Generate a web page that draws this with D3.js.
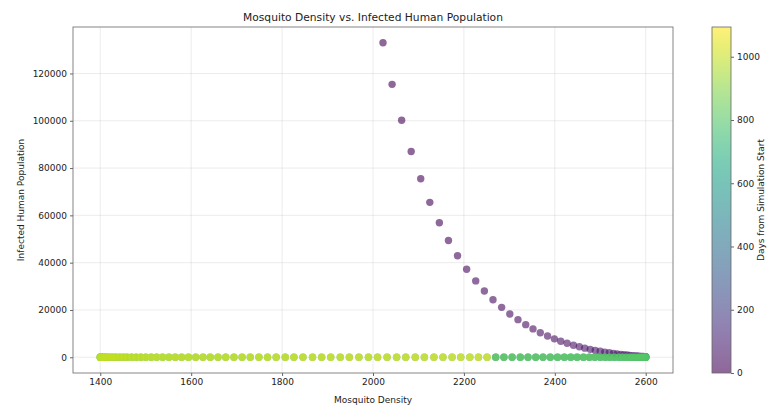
<!DOCTYPE html>
<html>
<head>
<meta charset="utf-8">
<script src="https://cdn.jsdelivr.net/npm/d3@7"></script>
<style>
body { margin: 0; background: #fff; }
text { font-family: "DejaVu Sans", sans-serif; fill: #222; }
</style>
</head>
<body>
<script>
var canvasWidth = 770;
var canvasHeight = 406;

// early days: infection dies out while density climbs
var decayDay = [0, 2, 4, 6, 8, 10, 12, 14, 16, 18, 20, 22, 24, 26, 28, 30, 32, 34, 36, 38,
    40, 42, 44, 46, 48, 50, 52, 54, 56, 58, 60, 62, 64, 66, 68, 70, 72, 74, 76, 78,
    80, 82, 84, 86, 88, 90, 92];
var decayDensity = [2022, 2042, 2063, 2084, 2105, 2125, 2146, 2166, 2186, 2206, 2226, 2245,
    2264, 2283, 2301, 2319, 2336, 2352, 2368, 2384, 2399, 2413, 2427, 2441, 2454, 2466,
    2478, 2489, 2500, 2510, 2520, 2529, 2537, 2545, 2552, 2559, 2565, 2571, 2576, 2581,
    2585, 2589, 2592, 2595, 2597, 2599, 2600];
var decayInfected = [133000, 115400, 100200, 87000, 75500, 65500, 56900, 49400, 42900, 37200,
    32300, 28000, 24300, 21100, 18300, 15900, 13800, 12000, 10400, 9000, 7800, 6800, 5900,
    5100, 4450, 3860, 3350, 2910, 2520, 2190, 1900, 1650, 1430, 1240, 1080, 940, 815, 705,
    612, 531, 461, 400, 347, 301, 262, 227, 197];

// later days: zero infected, density swinging between 1400 and 2600
var bandDensity = [2600, 2600, 2599, 2597, 2594, 2591, 2587, 2583, 2577, 2571, 2565, 2557,
    2549, 2541, 2531, 2521, 2511, 2500, 2488, 2476, 2463, 2449, 2435, 2421, 2406, 2390,
    2374, 2358, 2341, 2324, 2306, 2288, 2270, 2251, 2232, 2213, 2193, 2174, 2154, 2134,
    2113, 2093, 2072, 2052, 2031, 2010, 1990, 1969, 1948, 1928, 1907, 1887, 1867, 1846,
    1826, 1807, 1787, 1768, 1749, 1730, 1712, 1694, 1676, 1659, 1642, 1626, 1610, 1594,
    1579, 1565, 1551, 1537, 1524, 1512, 1500, 1489, 1479, 1469, 1459, 1451, 1443, 1435,
    1429, 1423, 1417, 1413, 1409, 1406, 1403, 1401, 1400, 1400];
var bandDayLow = [430, 432, 434, 436, 438, 440, 442, 444, 446, 448, 450, 452, 454, 456, 458,
    460, 462, 464, 466, 468, 470, 472, 474, 476, 478, 480, 482, 484, 486, 488, 490, 492, 494,
    728, 726, 724, 722, 720, 718, 716, 714, 712, 710, 708, 706, 704, 702, 700, 698, 696, 694,
    692, 690, 688, 686, 684, 682, 680, 678, 676, 674, 672, 670, 668, 666, 664, 662, 660, 658,
    656, 654, 652, 650, 648, 646, 644, 642, 640, 638, 636, 634, 632, 630, 628, 626, 624, 622,
    620, 618, 616, 614, 612];
var bandDayMid = [794, 792, 790, 788, 786, 784, 782, 780, 778, 776, 774, 772, 770, 768, 766,
    764, 762, 760, 758, 756, 754, 752, 750, 748, 746, 744, 742, 740, 738, 736, 734, 732, 730,
    860, 862, 864, 866, 868, 870, 872, 874, 876, 878, 880, 882, 884, 886, 888, 890, 892, 894,
    896, 898, 900, 902, 904, 906, 908, 910, 912, 914, 916, 918, 920, 922, 924, 926, 928, 930,
    932, 934, 936, 938, 940, 942, 944, 946, 948, 950, 952, 954, 956, 958, 960, 962, 964, 966,
    968, 970, 972, 974, 976];
var bandDayTop = [796, 798, 800, 802, 804, 806, 808, 810, 812, 814, 816, 818, 820, 822, 824,
    826, 828, 830, 832, 834, 836, 838, 840, 842, 844, 846, 848, 850, 852, 854, 856, 858, 860,
    1094, 1092, 1090, 1088, 1086, 1084, 1082, 1080, 1078, 1076, 1074, 1072, 1070, 1068, 1066,
    1064, 1062, 1060, 1058, 1056, 1054, 1052, 1050, 1048, 1046, 1044, 1042, 1040, 1038, 1036,
    1034, 1032, 1030, 1028, 1026, 1024, 1022, 1020, 1018, 1016, 1014, 1012, 1010, 1008, 1006,
    1004, 1002, 1000, 998, 996, 994, 992, 990, 988, 986, 984, 982, 980, 978];

var xTicks = [1400, 1600, 1800, 2000, 2200, 2400, 2600];
var yTicks = [0, 20000, 40000, 60000, 80000, 100000, 120000];
var cTicks = [0, 200, 400, 600, 800, 1000];

var plotLeft = 73, plotRight = 673, plotTop = 27, plotBottom = 373;
var barLeft = 712, barRight = 731;
var pointAlpha = 0.6;

var svg = d3.select("body").append("svg")
    .attr("width", canvasWidth)
    .attr("height", canvasHeight);

svg.append("rect").attr("width", canvasWidth).attr("height", canvasHeight).attr("fill", "#fff");

var x = d3.scaleLinear().domain([1340, 2660]).range([plotLeft, plotRight]);
var y = d3.scaleLinear().domain([-6650, 139650]).range([plotBottom, plotTop]);
var color = d3.scaleSequential(d3.interpolateViridis).domain([0, 1094]);
var cScale = d3.scaleLinear().domain([0, 1094]).range([plotBottom, plotTop]);

// grid
var grid = svg.append("g").attr("stroke", "#b0b0b0").attr("stroke-opacity", 0.3).attr("stroke-width", 0.8);
xTicks.forEach(function(t) {
    grid.append("line").attr("x1", x(t)).attr("x2", x(t)).attr("y1", plotTop).attr("y2", plotBottom);
});
yTicks.forEach(function(t) {
    grid.append("line").attr("x1", plotLeft).attr("x2", plotRight).attr("y1", y(t)).attr("y2", y(t));
});

// collect points, draw in time order like the original scatter
var points = [];
decayDay.forEach(function(d, i) {
    points.push({day: d, density: decayDensity[i], infected: decayInfected[i]});
});
[bandDayLow, bandDayMid, bandDayTop].forEach(function(layer) {
    layer.forEach(function(d, i) {
        points.push({day: d, density: bandDensity[i], infected: 0});
    });
});
points.sort(function(a, b) { return a.day - b.day; });

svg.append("g").selectAll("circle")
    .data(points)
    .enter().append("circle")
    .attr("cx", function(d) { return x(d.density); })
    .attr("cy", function(d) { return y(d.infected); })
    .attr("r", 3.7)
    .attr("fill", function(d) { return color(d.day); })
    .attr("fill-opacity", pointAlpha);

// frame
svg.append("rect")
    .attr("x", plotLeft).attr("y", plotTop)
    .attr("width", plotRight - plotLeft).attr("height", plotBottom - plotTop)
    .attr("fill", "none").attr("stroke", "#666").attr("stroke-width", 0.8);

var xAxis = svg.append("g")
    .attr("transform", "translate(0," + plotBottom + ")")
    .call(d3.axisBottom(x).tickValues(xTicks).tickFormat(d3.format("d")).tickSize(3).tickPadding(3));
var yAxis = svg.append("g")
    .attr("transform", "translate(" + plotLeft + ",0)")
    .call(d3.axisLeft(y).tickValues(yTicks).tickFormat(d3.format("d")).tickSize(3).tickPadding(3));
[xAxis, yAxis].forEach(function(a) {
    a.select(".domain").remove();
    a.selectAll("line").attr("stroke", "#666");
    a.selectAll("text").attr("font-size", 9).attr("font-family", "DejaVu Sans").attr("fill", "#222");
});

svg.append("text")
    .attr("x", (plotLeft + plotRight) / 2).attr("y", 21)
    .attr("text-anchor", "middle").attr("font-size", 10.7)
    .text("Mosquito Density vs. Infected Human Population");
svg.append("text")
    .attr("x", (plotLeft + plotRight) / 2).attr("y", 403)
    .attr("text-anchor", "middle").attr("font-size", 9)
    .text("Mosquito Density");
svg.append("text")
    .attr("transform", "translate(24," + (plotTop + plotBottom) / 2 + ") rotate(-90)")
    .attr("text-anchor", "middle").attr("font-size", 9)
    .text("Infected Human Population");

// colorbar
var defs = svg.append("defs");
var grad = defs.append("linearGradient").attr("id", "cbar")
    .attr("x1", 0).attr("y1", 1).attr("x2", 0).attr("y2", 0);
d3.range(0, 1.0001, 0.05).forEach(function(s) {
    grad.append("stop").attr("offset", s).attr("stop-color", d3.interpolateViridis(s));
});
svg.append("rect")
    .attr("x", barLeft).attr("y", plotTop)
    .attr("width", barRight - barLeft).attr("height", plotBottom - plotTop)
    .attr("fill", "url(#cbar)").attr("fill-opacity", pointAlpha);
svg.append("rect")
    .attr("x", barLeft).attr("y", plotTop)
    .attr("width", barRight - barLeft).attr("height", plotBottom - plotTop)
    .attr("fill", "none").attr("stroke", "#666").attr("stroke-width", 0.8);
var cAxis = svg.append("g")
    .attr("transform", "translate(" + barRight + ",0)")
    .call(d3.axisRight(cScale).tickValues(cTicks).tickFormat(d3.format("d")).tickSize(3).tickPadding(3));
cAxis.select(".domain").remove();
cAxis.selectAll("line").attr("stroke", "#666");
cAxis.selectAll("text").attr("font-size", 9).attr("font-family", "DejaVu Sans").attr("fill", "#222");
svg.append("text")
    .attr("transform", "translate(764," + (plotTop + plotBottom) / 2 + ") rotate(-90)")
    .attr("text-anchor", "middle").attr("font-size", 9)
    .text("Days from Simulation Start");
</script>
</body>
</html>
